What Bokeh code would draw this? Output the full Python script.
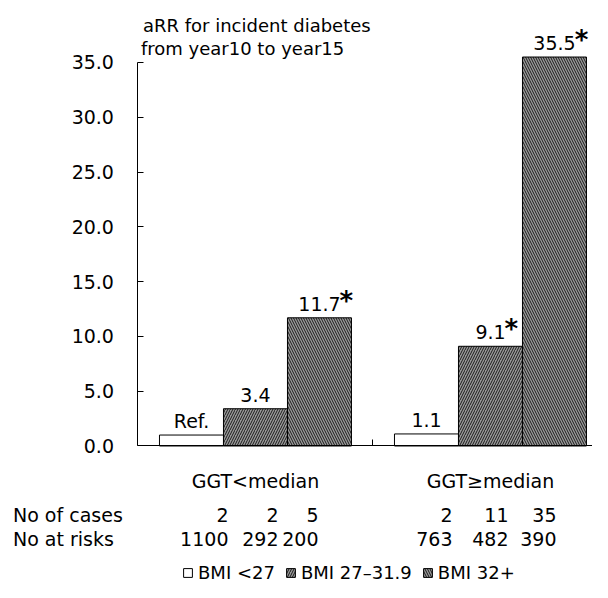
from bokeh.plotting import figure
from bokeh.models import (Range1d, LinearAxis, FixedTicker, NumeralTickFormatter,
                          Legend, LegendItem, ColumnDataSource)
from bokeh.core.properties import value
from bokeh.embed import file_html
from bokeh.resources import INLINE

# ---------------- data ----------------
groups = ["GGT<median", "GGT\u2265median"]
bmi_classes = ["BMI <27", "BMI 27\u201331.9", "BMI 32+"]

arr_bmi_lt27 = [1.0, 1.1]
arr_bmi_27_319 = [3.4, 9.1]
arr_bmi_32plus = [11.7, 35.5]

label_bmi_lt27 = ["Ref.", "1.1"]
label_bmi_27_319 = ["3.4", "9.1"]
label_bmi_32plus = ["11.7", "35.5"]

signif_bmi_lt27 = [False, False]
signif_bmi_27_319 = [False, True]
signif_bmi_32plus = [True, True]

cases_bmi_lt27 = [2, 2]
cases_bmi_27_319 = [2, 11]
cases_bmi_32plus = [5, 35]

risk_bmi_lt27 = [1100, 763]
risk_bmi_27_319 = [292, 482]
risk_bmi_32plus = [200, 390]

y_ticks = [0, 5, 10, 15, 20, 25, 30, 35]
title_lines = ["aRR for incident diabetes", " from year10 to year15"]
row_names = ["No of cases", "No at risks"]

# ---------------- layout / style ----------------
FONT = "DejaVu Sans"
GROUP_SPAN = 3.672           # width of one GGT group in bar widths
X0, X1 = -2.148, 7.102
Y0, Y1 = -12.458, 40.658
W, H = 592, 582

values = [arr_bmi_lt27, arr_bmi_27_319, arr_bmi_32plus]
labels = [label_bmi_lt27, label_bmi_27_319, label_bmi_32plus]
signif = [signif_bmi_lt27, signif_bmi_27_319, signif_bmi_32plus]
cases = [cases_bmi_lt27, cases_bmi_27_319, cases_bmi_32plus]
risks = [risk_bmi_lt27, risk_bmi_27_319, risk_bmi_32plus]

styles = [
    dict(fill_color="white", hatch_pattern=None),
    dict(fill_color="#9a9a9a", hatch_pattern="right_diagonal_line",
         hatch_color="#1a1a1a", hatch_scale=5, hatch_weight=1),
    dict(fill_color="#9a9a9a", hatch_pattern="left_diagonal_line",
         hatch_color="#1a1a1a", hatch_scale=5, hatch_weight=1),
]
# pixel offsets of the right edge of the count columns from the bar centre
count_dx = [[37, 26], [23, 18], [-1, 2]]
ROW_DY = [69, 93]      # px below the baseline for the two count rows
GROUP_DY = 35


def text_width(s, size):
    adv = {".": 0.318, " ": 0.318}
    return sum(adv.get(c, 0.636) for c in s) * size


p = figure(width=W, height=H, x_range=Range1d(X0, X1), y_range=Range1d(Y0, Y1),
           output_backend="svg", toolbar_location=None,
           x_axis_location=None, y_axis_location=None,
           min_border=0, outline_line_color=None)
p.xgrid.grid_line_color = None
p.ygrid.grid_line_color = None

yaxis = LinearAxis(fixed_location=0, bounds=(0, 35),
                   ticker=FixedTicker(ticks=y_ticks),
                   formatter=NumeralTickFormatter(format="0.0"),
                   major_tick_in=6, major_tick_out=0,
                   minor_tick_line_color=None,
                   major_label_standoff=24,
                   major_label_text_font=FONT,
                   major_label_text_font_size="19px",
                   major_label_text_color="black",
                   axis_line_color="black", major_tick_line_color="black")
p.add_layout(yaxis, "left")

xaxis = LinearAxis(fixed_location=0, bounds=(0, 2 * GROUP_SPAN),
                   ticker=FixedTicker(ticks=[GROUP_SPAN, 2 * GROUP_SPAN]),
                   major_label_overrides={GROUP_SPAN: "", 2 * GROUP_SPAN: ""},
                   major_tick_in=6, major_tick_out=0,
                   minor_tick_line_color=None,
                   axis_line_color="black", major_tick_line_color="black")
p.add_layout(xaxis, "below")

legend_items = []
for k in range(3):
    xs = [(g + 0.5) * GROUP_SPAN + (k - 1) for g in range(len(groups))]
    src = ColumnDataSource(dict(x=xs, top=values[k], lab=labels[k]))
    r = p.vbar(x="x", top="top", bottom=0, width=1.0, source=src,
               line_color="black", line_width=1, **styles[k])
    legend_items.append(LegendItem(label=bmi_classes[k], renderers=[r]))

    p.text(x="x", y="top", text="lab", source=src, text_align="center",
           text_baseline="middle", y_offset=-14,
           text_font=value(FONT), text_font_size="19px", text_color="black")

    sx, sy, so = [], [], []
    for g in range(len(groups)):
        if signif[k][g]:
            sx.append(xs[g])
            sy.append(values[k][g])
            so.append(text_width(labels[k][g], 19) / 2 - 1)
    if sx:
        ssrc = ColumnDataSource(dict(x=sx, y=sy, dx=so, t=["*"] * len(sx)))
        p.text(x="x", y="y", text="t", source=ssrc, x_offset="dx", y_offset=-17,
               text_align="left", text_baseline="middle",
               text_font=value(FONT), text_font_style="bold",
               text_font_size="26px", text_color="black")

    csrc = ColumnDataSource(dict(
        x=xs, y=[0, 0], dx=count_dx[k],
        c=[str(v) for v in cases[k]], r=[str(v) for v in risks[k]]))
    p.text(x="x", y="y", text="c", source=csrc, x_offset="dx", y_offset=ROW_DY[0],
           text_align="right", text_baseline="middle",
           text_font=value(FONT), text_font_size="19px", text_color="black")
    p.text(x="x", y="y", text="r", source=csrc, x_offset="dx", y_offset=ROW_DY[1],
           text_align="right", text_baseline="middle",
           text_font=value(FONT), text_font_size="19px", text_color="black")

# group labels
gsrc = ColumnDataSource(dict(x=[(g + 0.5) * GROUP_SPAN for g in range(len(groups))],
                             y=[0, 0], t=groups))
p.text(x="x", y="y", text="t", source=gsrc, y_offset=GROUP_DY, text_align="center",
       text_baseline="middle", text_font=value(FONT), text_font_size="19px",
       text_color="black")

# row names
rsrc = ColumnDataSource(dict(x=[0, 0], y=[0, 0], t=row_names, dy=ROW_DY))
p.text(x="x", y="y", text="t", source=rsrc, x_offset=-125, y_offset="dy",
       text_align="left", text_baseline="middle", text_font=value(FONT),
       text_font_size="19px", text_color="black")

# title lines
tsrc = ColumnDataSource(dict(x=[0, 0], y=[35, 35], t=title_lines,
                             dx=[5, 3], dy=[-37, -14]))
p.text(x="x", y="y", text="t", source=tsrc, x_offset="dx", y_offset="dy",
       text_align="left", text_baseline="middle", text_font=value(FONT),
       text_font_size="18px", text_color="black")

legend = Legend(items=legend_items, orientation="horizontal", location=(182, -1),
                glyph_width=11, glyph_height=11, label_standoff=5, spacing=10,
                padding=0, margin=0, label_height=16,
                label_text_font=FONT, label_text_font_size="18px",
                label_text_color="black",
                background_fill_alpha=0, border_line_color=None)
p.add_layout(legend, "center")

open("out.html", "w").write(file_html(p, INLINE))
